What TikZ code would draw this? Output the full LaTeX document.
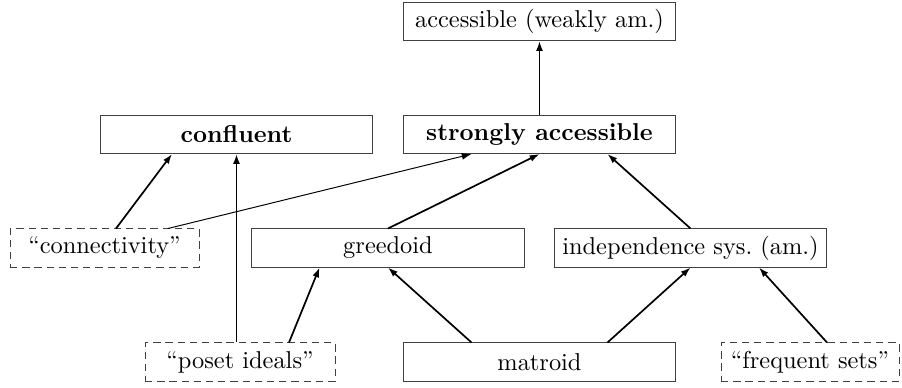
\documentclass[tikz,border=0pt]{standalone}
\usetikzlibrary{calc,arrows.meta}
\begin{document}
\begin{tikzpicture}[x=0.41pt,y=-0.41pt,
  box/.style={draw=black!75,line width=0.4pt,minimum height=15.6pt,inner ysep=1.5pt,inner xsep=2pt,anchor=center},
  wbox/.style={box,minimum width=111.9pt},
  dbox/.style={box,dash pattern=on 3pt off 2pt},
  arr/.style={-{Latex[length=4pt,width=2.8pt]},line width=0.7pt},
  tarr/.style={-{Latex[length=4pt,width=2.8pt]},line width=0.4pt}]
\useasboundingbox (0,0) rectangle (902,387);
\node[wbox] (acc) at (539.5,21.5) {accessible (weakly am.)};
\node[wbox] (strong) at (539.5,134.5) {\textbf{strongly accessible}};
\node[wbox] (conf) at (236.5,134.5) {\textbf{confluent}};
\node[dbox,minimum width=77.5pt] (conn) at (104.5,248) {``connectivity''};
\node[wbox] (greed) at (388,248) {greedoid};
\node[wbox] (indep) at (690.5,248) {independence sys.\ (am.)};
\node[dbox,minimum width=77.9pt] (poset) at (240,362) {``poset ideals''};
\node[wbox] (mat) at (539.5,362) {matroid};
\node[dbox,minimum width=73pt] (freq) at (810,362) {``frequent sets''};

\draw[arr] (strong.north) -- (acc.south);
\draw[arr] ($(conn.north)+(11.5,0)$) -- ($(conf.south)+(-64.5,0)$);
\draw[arr] ($(poset.north)+(-3.5,0)$) -- ($(conf.south)+(0,0)$);
\draw[tarr] ($(conn.north)+(63.5,0)$) -- ($(strong.south)+(-68,0)$);
\draw[arr] (greed.north) -- (strong.south);
\draw[arr] (indep.north) -- ($(strong.south)+(68,0)$);
\draw[arr] ($(poset.north)+(49,0)$) -- ($(greed.south)+(-68.5,0)$);
\draw[arr] ($(mat.north)+(-68,0)$) -- (greed.south);
\draw[arr] ($(mat.north)+(68,0)$) -- (indep.south);
\draw[arr] ($(freq.north)+(17,0)$) -- ($(indep.south)+(68.5,0)$);
\end{tikzpicture}
\end{document}
